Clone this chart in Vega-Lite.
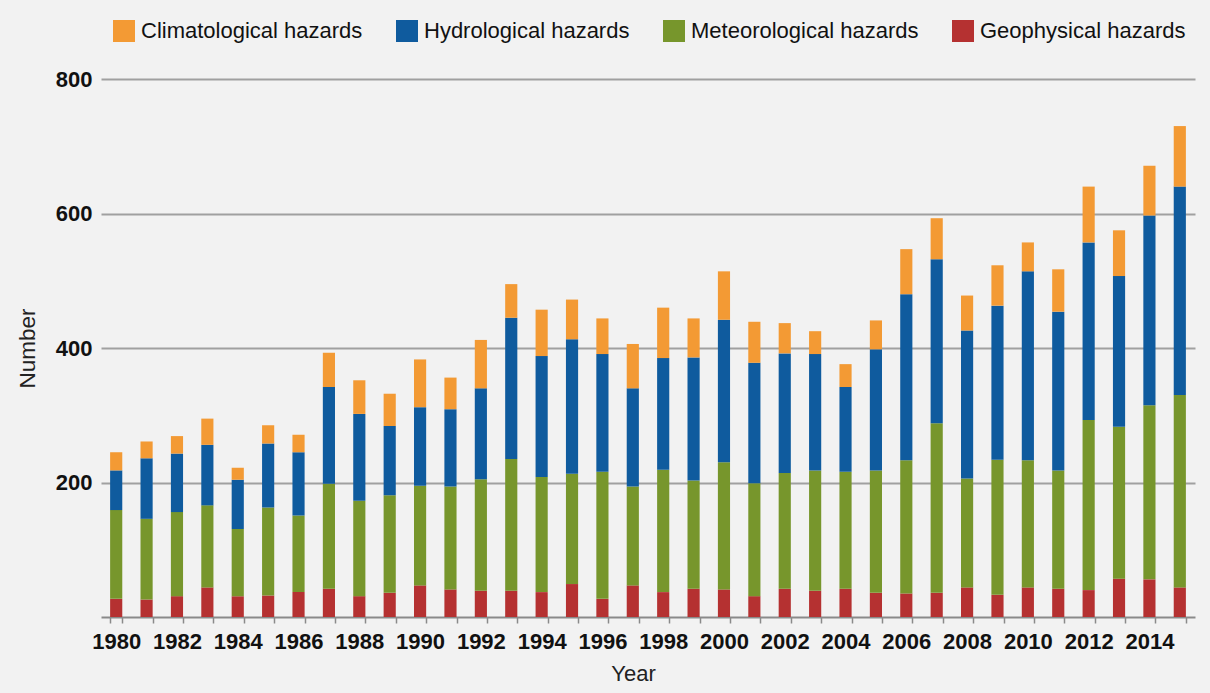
{
  "$schema": "https://vega.github.io/schema/vega-lite/v6.json",
  "width": 1094,
  "height": 538,
  "autosize": {"type": "none"},
  "padding": {"left": 101, "top": 79, "right": 15, "bottom": 76},
  "background": "#f2f2f2",
  "config": {"view": {"stroke": null}, "font": "Liberation Sans"},
  "data": {
    "values": [
      {"year": 1980, "Geophysical hazards": 27, "Meteorological hazards": 132, "Hydrological hazards": 59, "Climatological hazards": 27},
      {"year": 1981, "Geophysical hazards": 26, "Meteorological hazards": 120, "Hydrological hazards": 90, "Climatological hazards": 25},
      {"year": 1982, "Geophysical hazards": 31, "Meteorological hazards": 125, "Hydrological hazards": 87, "Climatological hazards": 26},
      {"year": 1983, "Geophysical hazards": 44, "Meteorological hazards": 122, "Hydrological hazards": 90, "Climatological hazards": 39},
      {"year": 1984, "Geophysical hazards": 31, "Meteorological hazards": 100, "Hydrological hazards": 73, "Climatological hazards": 18},
      {"year": 1985, "Geophysical hazards": 32, "Meteorological hazards": 131, "Hydrological hazards": 95, "Climatological hazards": 27},
      {"year": 1986, "Geophysical hazards": 37, "Meteorological hazards": 114, "Hydrological hazards": 94, "Climatological hazards": 26},
      {"year": 1987, "Geophysical hazards": 42, "Meteorological hazards": 156, "Hydrological hazards": 144, "Climatological hazards": 51},
      {"year": 1988, "Geophysical hazards": 31, "Meteorological hazards": 142, "Hydrological hazards": 129, "Climatological hazards": 50},
      {"year": 1989, "Geophysical hazards": 36, "Meteorological hazards": 145, "Hydrological hazards": 103, "Climatological hazards": 48},
      {"year": 1990, "Geophysical hazards": 47, "Meteorological hazards": 148, "Hydrological hazards": 117, "Climatological hazards": 71},
      {"year": 1991, "Geophysical hazards": 41, "Meteorological hazards": 153, "Hydrological hazards": 115, "Climatological hazards": 47},
      {"year": 1992, "Geophysical hazards": 39, "Meteorological hazards": 166, "Hydrological hazards": 135, "Climatological hazards": 72},
      {"year": 1993, "Geophysical hazards": 39, "Meteorological hazards": 196, "Hydrological hazards": 210, "Climatological hazards": 50},
      {"year": 1994, "Geophysical hazards": 37, "Meteorological hazards": 171, "Hydrological hazards": 180, "Climatological hazards": 69},
      {"year": 1995, "Geophysical hazards": 49, "Meteorological hazards": 164, "Hydrological hazards": 200, "Climatological hazards": 59},
      {"year": 1996, "Geophysical hazards": 27, "Meteorological hazards": 189, "Hydrological hazards": 175, "Climatological hazards": 53},
      {"year": 1997, "Geophysical hazards": 47, "Meteorological hazards": 147, "Hydrological hazards": 146, "Climatological hazards": 66},
      {"year": 1998, "Geophysical hazards": 37, "Meteorological hazards": 182, "Hydrological hazards": 166, "Climatological hazards": 75},
      {"year": 1999, "Geophysical hazards": 42, "Meteorological hazards": 161, "Hydrological hazards": 183, "Climatological hazards": 58},
      {"year": 2000, "Geophysical hazards": 41, "Meteorological hazards": 189, "Hydrological hazards": 212, "Climatological hazards": 72},
      {"year": 2001, "Geophysical hazards": 31, "Meteorological hazards": 168, "Hydrological hazards": 179, "Climatological hazards": 61},
      {"year": 2002, "Geophysical hazards": 42, "Meteorological hazards": 172, "Hydrological hazards": 178, "Climatological hazards": 45},
      {"year": 2003, "Geophysical hazards": 39, "Meteorological hazards": 179, "Hydrological hazards": 173, "Climatological hazards": 34},
      {"year": 2004, "Geophysical hazards": 42, "Meteorological hazards": 174, "Hydrological hazards": 126, "Climatological hazards": 34},
      {"year": 2005, "Geophysical hazards": 36, "Meteorological hazards": 182, "Hydrological hazards": 180, "Climatological hazards": 43},
      {"year": 2006, "Geophysical hazards": 35, "Meteorological hazards": 198, "Hydrological hazards": 247, "Climatological hazards": 67},
      {"year": 2007, "Geophysical hazards": 36, "Meteorological hazards": 252, "Hydrological hazards": 244, "Climatological hazards": 61},
      {"year": 2008, "Geophysical hazards": 44, "Meteorological hazards": 162, "Hydrological hazards": 220, "Climatological hazards": 52},
      {"year": 2009, "Geophysical hazards": 33, "Meteorological hazards": 201, "Hydrological hazards": 229, "Climatological hazards": 60},
      {"year": 2010, "Geophysical hazards": 44, "Meteorological hazards": 189, "Hydrological hazards": 281, "Climatological hazards": 43},
      {"year": 2011, "Geophysical hazards": 42, "Meteorological hazards": 176, "Hydrological hazards": 236, "Climatological hazards": 63},
      {"year": 2012, "Geophysical hazards": 40, "Meteorological hazards": 253, "Hydrological hazards": 264, "Climatological hazards": 83},
      {"year": 2013, "Geophysical hazards": 57, "Meteorological hazards": 226, "Hydrological hazards": 224, "Climatological hazards": 68},
      {"year": 2014, "Geophysical hazards": 56, "Meteorological hazards": 259, "Hydrological hazards": 282, "Climatological hazards": 74},
      {"year": 2015, "Geophysical hazards": 44, "Meteorological hazards": 286, "Hydrological hazards": 310, "Climatological hazards": 90}
    ]
  },
  "transform": [
    {"fold": ["Geophysical hazards", "Meteorological hazards", "Hydrological hazards", "Climatological hazards"], "as": ["hazard", "count"]},
    {"calculate": "indexof(['Geophysical hazards', 'Meteorological hazards', 'Hydrological hazards', 'Climatological hazards'], datum.hazard)", "as": "stackOrder"}
  ],
  "mark": {"type": "bar"},
  "encoding": {
    "x": {
      "field": "year",
      "type": "ordinal",
      "scale": {"paddingInner": 0.6, "paddingOuter": 0.3},
      "axis": {
        "title": "Year",
        "grid": false,
        "tickBand": "extent",
        "labelExpr": "datum.value % 2 === 0 ? datum.label : ''",
        "labelAngle": 0,
        "labelFontSize": 22,
        "labelFontWeight": "bold",
        "labelColor": "#111111",
        "labelPadding": 8,
        "labelOverlap": false,
        "labelBound": false,
        "labelFlush": false,
        "domainColor": "#8a8a8a",
        "domainWidth": 2,
        "tickColor": "#8a8a8a",
        "tickSize": 6,
        "tickWidth": 1.5,
        "titleFontSize": 22,
        "titleFontWeight": "normal",
        "titleColor": "#222222",
        "titlePadding": 11,
        "titleX": 532
      }
    },
    "y": {
      "field": "count",
      "type": "quantitative",
      "stack": "zero",
      "scale": {"domain": [0, 800], "nice": false},
      "axis": {
        "title": "Number",
        "values": [200, 400, 600, 800],
        "ticks": false,
        "domain": false,
        "grid": true,
        "gridColor": "#a0a0a0",
        "gridWidth": 2,
        "labelFontSize": 22,
        "labelFontWeight": "bold",
        "labelColor": "#111111",
        "labelPadding": 9,
        "titleFontSize": 22.5,
        "titleFontWeight": "normal",
        "titleColor": "#222222",
        "titlePadding": 16
      }
    },
    "color": {
      "field": "hazard",
      "type": "nominal",
      "scale": {
        "domain": ["Climatological hazards", "Hydrological hazards", "Meteorological hazards", "Geophysical hazards"],
        "range": ["#f39a34", "#0f5b9e", "#77962c", "#b53131"]
      },
      "legend": {
        "title": null,
        "orient": "none",
        "legendX": 12,
        "legendY": -59,
        "direction": "horizontal",
        "symbolType": "square",
        "symbolSize": 484,
        "symbolStrokeWidth": 0,
        "symbolOpacity": 1,
        "labelFontSize": 22,
        "labelLimit": 0,
        "labelColor": "#111111",
        "labelOffset": 6,
        "columnPadding": 33,
        "padding": 0
      }
    },
    "order": {"field": "stackOrder", "type": "quantitative", "sort": "ascending"}
  }
}
